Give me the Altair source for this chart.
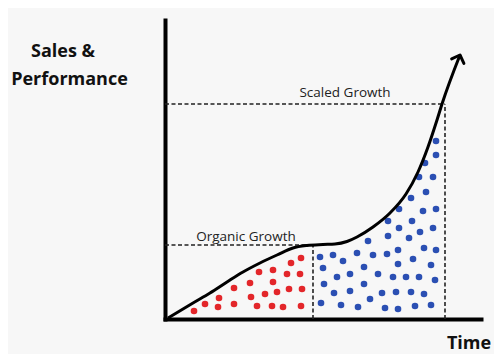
import altair as alt
import pandas as pd

# Growth curve (arbitrary time / performance units)
curve_x = [3, 28, 45, 62, 78, 95, 112, 128, 142, 158, 170, 182, 192, 208, 225, 241, 253, 263, 272, 277, 295]
curve_y = [1, 16, 26, 37, 47, 56, 64, 71, 73.5, 74.5, 75, 77.5, 82, 92, 106, 125, 147, 172, 199, 215, 264]

# Organic-phase dots (red)
red_x = [29, 40, 54, 53, 69, 69, 85, 86, 92, 94, 100, 108, 108, 107, 112, 118, 122, 124, 126, 135, 136, 137, 136]
red_y = [8, 15, 21, 12, 31, 15, 36, 22, 13, 47, 25, 49, 37, 13, 27, 12, 45, 30, 56, 45, 61, 30, 13]

# Scaled-phase dots (blue)
blue_x = [156, 176, 193, 220, 233, 250, 266,
          169, 185, 205, 217, 231, 246, 259,
          159, 172, 185, 199, 213, 228, 241, 254, 270,
          158, 178, 199, 233, 248, 266,
          155, 168, 192, 208, 222, 233, 259, 271,
          203, 223, 244, 255, 268,
          223, 234, 247,
          234, 258, 271,
          246, 261,
          254, 268,
          260, 271, 271]
blue_y = [16, 14, 12, 11, 10, 13, 14,
          26, 28, 20, 26, 27, 27, 25,
          35, 42, 45, 35, 45, 42, 42, 42, 39,
          51, 58, 52, 55, 60, 54,
          62, 64, 66, 64, 65, 69, 71, 69,
          78, 83, 81, 87, 91,
          98, 91, 98,
          110, 108, 110,
          121, 127,
          142, 142,
          156, 164, 178]

# Dashed guide lines
guide_x = [0, 148, 0, 280]
guide_x2 = [145, 148, 280, 280]
guide_y = [74, 0, 215, 0]
guide_y2 = [74, 74, 215, 215]

# Guide labels
label_text = ["Organic Growth", "Scaled Growth"]
label_x = [81, 180]
label_y = [78, 222]

# Axis titles
title_text = ["Sales &", "Performance", "Time"]
title_x = [-102, -95.5, 304]
title_y = [262, 234, -30]

xs = alt.Scale(domain=[0, 316], nice=False, zero=False)
ys = alt.Scale(domain=[0, 299], nice=False, zero=False)
ax = alt.Axis(domain=True, domainColor="black", domainWidth=4, domainCap="square",
              ticks=False, labels=False, grid=False, title=None)

def X(f="x"):
    return alt.X(f"{f}:Q", scale=xs, axis=ax, title=None)

def Y(f="y"):
    return alt.Y(f"{f}:Q", scale=ys, axis=ax, title=None)

curve_df = pd.DataFrame({"x": curve_x, "y": curve_y})
red_df = pd.DataFrame({"x": red_x, "y": red_y})
blue_df = pd.DataFrame({"x": blue_x, "y": blue_y})
guide_df = pd.DataFrame({"x": guide_x, "x2": guide_x2, "y": guide_y, "y2": guide_y2})
label_df = pd.DataFrame({"x": label_x, "y": label_y, "t": label_text})
title_df = pd.DataFrame({"x": title_x, "y": title_y, "t": title_text})
tip_df = curve_df.tail(1)

guides = alt.Chart(guide_df).mark_rule(color="#222222", strokeWidth=1.6, strokeDash=[4, 2.5]).encode(
    x=X(), y=Y(), x2="x2:Q", y2="y2:Q")

red = alt.Chart(red_df).mark_circle(size=44, opacity=1, color="#e3262a").encode(x=X(), y=Y())
blue = alt.Chart(blue_df).mark_circle(size=44, opacity=1, color="#2b4fb3").encode(x=X(), y=Y())

curve = alt.Chart(curve_df).mark_line(color="black", strokeWidth=3, interpolate="monotone").encode(
    x=X(), y=Y())

arrow = alt.Chart(tip_df).mark_point(shape="M -1 1 L 0 0 L 1 1", filled=False, stroke="black",
                                     strokeWidth=3, size=169, angle=20, opacity=1,
                                     strokeJoin="round", strokeCap="round").encode(x=X(), y=Y())

labels = alt.Chart(label_df).mark_text(font="Open Sans", fontSize=13.5, color="#222222",
                                       align="center", baseline="alphabetic").encode(
    x=X(), y=Y(), text="t:N")

titles = alt.Chart(title_df).mark_text(font="Open Sans", fontSize=18, fontWeight="bold",
                                       color="#111111", align="center", baseline="alphabetic").encode(
    x=X(), y=Y(), text="t:N")

chart = alt.layer(guides, red, blue, curve, arrow, labels, titles).properties(
    width=316, height=299,
    padding={"left": 157, "top": 12, "right": 13, "bottom": 35},
    autosize="none",
    background="#f7f7f7",
).configure_view(stroke=None)

chart.save("out.html", embed_options={"renderer": "svg", "actions": False})
